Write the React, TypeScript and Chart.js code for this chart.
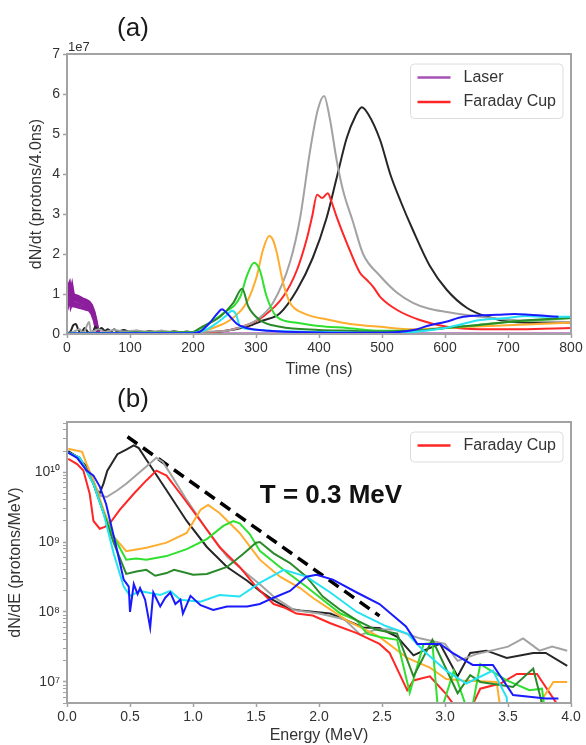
import React, { useEffect, useRef } from 'react';
import { Chart, registerables } from 'chart.js';

Chart.register(...registerables);

const FONT = "'Liberation Sans', Arial, Helvetica, sans-serif";
const TEXT = '#333333';
const FRAME = '#a3a3a3';

// ---------- Panel (a): dN/dt vs time (values in units of 1e7) ----------
const laserShot1: [number, number][] = [[0,1.0],[2,1.2],[4,1.27],[6,1.05],[8,1.2],[10,1.0],[12,0.97],[16,0.95],[20,0.92],[25,0.88],[30,0.85],[35,0.8],[39,0.72],[43,0.55],[46,0.35],[49,0.1],[52,0],[800,0]];
const laserShot2: [number, number][] = [[0,0.9],[2,1.1],[4,1.18],[6,0.98],[8,1.1],[10,0.92],[12,0.9],[16,0.89],[20,0.86],[25,0.82],[30,0.8],[35,0.75],[39,0.67],[43,0.5],[46,0.3],[49,0.08],[52,0]];
const laserShot3: [number, number][] = [[0,0.8],[2,1.0],[4,1.1],[6,0.9],[8,1.0],[10,0.85],[12,0.85],[16,0.83],[20,0.8],[25,0.77],[30,0.74],[35,0.7],[39,0.62],[43,0.45],[46,0.25],[49,0.05],[52,0]];
const laserShot4: [number, number][] = [[0,0.7],[2,0.9],[4,1.0],[6,0.8],[8,0.9],[10,0.78],[12,0.77],[16,0.75],[20,0.73],[25,0.7],[30,0.68],[35,0.65],[39,0.57],[43,0.4],[46,0.2],[49,0.03],[52,0]];
const laserShot5: [number, number][] = [[0,0.6],[2,0.8],[4,0.9],[6,0.7],[8,0.8],[10,0.7],[12,0.7],[16,0.68],[20,0.66],[25,0.64],[30,0.62],[35,0.6],[39,0.52],[43,0.35],[46,0.15],[49,0.02],[52,0]];
const blackA: [number, number][] = [[0,0.02],[5,0.05],[10,0.22],[14,0.25],[18,0.1],[22,0.02],[28,0.15],[33,0.05],[40,0.02],[45,0.18],[50,0.1],[55,0.15],[60,0.08],[65,0.12],[70,0.06],[75,0.12],[80,0.05],[90,0.1],[100,0.05],[110,0.08],[120,0.04],[130,0.07],[140,0.05],[150,0.08],[160,0.04],[170,0.07],[180,0.04],[190,0.06],[200,0.04],[215,0.04],[232,0.05],[260,0.1],[285,0.18],[310,0.33],[338,0.52],[365,1.1],[390,1.9],[412,2.9],[428,3.9],[444,4.9],[458,5.45],[468,5.67],[478,5.5],[497,4.85],[513,4.0],[530,3.3],[549,2.6],[576,1.7],[603,1.1],[635,0.65],[667,0.43],[708,0.3],[750,0.28],[800,0.28]];
const grayA: [number, number][] = [[0,0.02],[10,0.05],[20,0.12],[26,0.03],[35,0.3],[38,0.05],[50,0.12],[60,0.05],[75,0.1],[90,0.06],[110,0.09],[130,0.05],[150,0.08],[170,0.05],[200,0.05],[230,0.06],[259,0.1],[301,0.35],[327,0.78],[354,1.8],[370,2.9],[386,4.6],[398,5.6],[408,5.95],[417,5.4],[428,4.35],[438,3.6],[454,2.8],[470,2.0],[497,1.45],[524,1.03],[549,0.78],[575,0.63],[603,0.55],[656,0.43],[708,0.35],[800,0.3]];
const redA: [number, number][] = [[0,0.01],[100,0.02],[200,0.02],[230,0.05],[259,0.1],[290,0.25],[311,0.43],[343,0.93],[365,1.6],[381,2.4],[389,2.93],[397,3.48],[405,3.4],[414,3.52],[420,3.3],[428,2.93],[444,2.28],[465,1.53],[476,1.35],[486,1.18],[497,0.93],[524,0.6],[560,0.35],[603,0.18],[656,0.12],[720,0.12],[800,0.15]];
const orangeA: [number, number][] = [[0,0.01],[100,0.02],[200,0.03],[222,0.1],[240,0.2],[259,0.35],[285,0.78],[301,1.43],[311,2.1],[321,2.45],[327,2.35],[333,2.03],[343,1.28],[354,0.78],[375,0.52],[417,0.35],[450,0.25],[497,0.18],[550,0.12],[600,0.15],[700,0.22],[800,0.28]];
const limeA: [number, number][] = [[0,0.01],[100,0.03],[200,0.05],[216,0.18],[248,0.52],[275,0.93],[285,1.43],[297,1.78],[306,1.6],[317,0.93],[333,0.43],[365,0.28],[400,0.2],[444,0.15],[500,0.08],[550,0.08],[600,0.15],[650,0.22],[700,0.3],[750,0.35],[800,0.4]];
const darkGreenA: [number, number][] = [[0,0.01],[100,0.03],[200,0.05],[211,0.15],[243,0.43],[264,0.78],[278,1.13],[288,0.68],[306,0.35],[338,0.18],[400,0.1],[450,0.08],[500,0.06],[550,0.08],[600,0.15],[650,0.22],[700,0.3],[750,0.36],[800,0.4]];
const cyanA: [number, number][] = [[0,0.01],[100,0.02],[200,0.03],[220,0.1],[240,0.3],[252,0.45],[262,0.58],[268,0.5],[275,0.18],[290,0.12],[320,0.08],[400,0.05],[500,0.03],[550,0.05],[600,0.15],[656,0.35],[700,0.4],[730,0.45],[760,0.43],[800,0.43]];
const blueA: [number, number][] = [[0,0.01],[100,0.02],[200,0.02],[210,0.05],[225,0.25],[238,0.5],[246,0.62],[252,0.55],[259,0.43],[270,0.25],[285,0.15],[320,0.08],[400,0.04],[500,0.03],[550,0.1],[576,0.22],[600,0.3],[629,0.43],[660,0.47],[683,0.48],[710,0.5],[735,0.48],[762,0.45],[780,0.43]];

// ---------- Panel (b): dN/dE vs energy ----------
const blackB: [number, number][] = [[0.01,2.0e10],[0.08,1.65e10],[0.156,1.2e10],[0.2,8e9],[0.235,5.5e9],[0.26,5.0e9],[0.29,6.9e9],[0.32,1.05e10],[0.4,1.8e10],[0.47,2.1e10],[0.53,2.4e10],[0.57,2.2e10],[0.63,1.5e10],[0.79,5.5e9],[0.95,2.0e9],[1.11,8.5e8],[1.27,4.4e8],[1.43,2.8e8],[1.53,2.0e8],[1.63,1.5e8],[1.77,1.1e8],[1.85,1.05e8],[2.09,9.5e7],[2.35,6.0e7],[2.48,5.9e7],[2.62,4.4e7],[2.75,2.4e7],[2.83,2.8e7],[2.96,3.5e7],[3.1,1.2e7],[3.2,2.6e7],[3.33,2.8e7],[3.49,2.2e7],[3.7,2.6e7],[3.8,2.6e7],[3.97,1.7e7]];
const grayB: [number, number][] = [[0.01,1.9e10],[0.1,1.6e10],[0.2,7.9e9],[0.26,4.6e9],[0.315,4.4e9],[0.4,5.5e9],[0.47,6.8e9],[0.63,1.2e10],[0.71,1.6e10],[0.76,1.4e10],[0.82,9.5e9],[0.95,4.0e9],[1.11,1.5e9],[1.27,6.2e8],[1.43,3.5e8],[1.53,2.5e8],[1.65,1.6e8],[1.8,1.07e8],[2.0,9.5e7],[2.2,7.9e7],[2.33,4.7e7],[2.45,5.6e7],[2.6,5.6e7],[2.8,4.2e7],[3.0,3.5e7],[3.1,2.0e7],[3.25,2.5e7],[3.5,3.2e7],[3.62,4.2e7],[3.75,2.8e7],[3.85,3.2e7],[3.97,2.8e7]];
const redB: [number, number][] = [[0.01,1.55e10],[0.08,1.3e10],[0.13,1.05e10],[0.18,4.9e9],[0.21,2.0e9],[0.26,1.55e9],[0.3,1.65e9],[0.34,1.85e9],[0.42,2.9e9],[0.53,4.9e9],[0.63,7.6e9],[0.71,1.05e10],[0.79,8.9e9],[0.9,4.9e9],[1.06,2.0e9],[1.21,8.5e8],[1.37,4.4e8],[1.5,2.3e8],[1.64,1.3e8],[1.73,1.15e8],[1.82,9.5e7],[1.95,8.9e7],[2.09,6.9e7],[2.3,5.0e7],[2.48,3.5e7],[2.56,2.6e7],[2.7,7.6e6],[2.75,1.05e7],[2.88,1.2e7],[3.0,7e6],[3.1,4e6],[3.2,4e6],[3.28,8e6],[3.44,9.5e6],[3.57,1.3e7],[3.73,1.3e7],[3.92,4e6]];
const orangeB: [number, number][] = [[0.01,2.15e10],[0.12,1.95e10],[0.156,1.3e10],[0.21,7.6e9],[0.29,2.9e9],[0.37,1.2e9],[0.47,7.4e8],[0.63,8.3e8],[0.79,9.8e8],[0.95,1.35e9],[1.06,2.9e9],[1.12,3.4e9],[1.21,2.6e9],[1.37,1.35e9],[1.53,5.6e8],[1.69,3.2e8],[1.85,2.2e8],[1.95,1.6e8],[2.22,7.6e7],[2.48,4.4e7],[2.7,2.2e7],[2.88,1.6e7],[3.01,1.1e7],[3.14,1.05e7],[3.41,1.0e7],[3.45,3e6],[3.7,3e6],[3.78,6e6],[3.86,1.0e7],[3.97,1.0e7]];
const limeB: [number, number][] = [[0.01,1.9e10],[0.1,1.6e10],[0.21,6.8e9],[0.29,2.6e9],[0.37,1.2e9],[0.47,5.6e8],[0.55,5.8e8],[0.63,5.6e8],[0.79,6.3e8],[0.95,7.9e8],[1.11,1.1e9],[1.24,1.7e9],[1.32,2.0e9],[1.37,1.85e9],[1.45,1.3e9],[1.53,7.5e8],[1.69,4.4e8],[1.9,2.3e8],[2.03,1.5e8],[2.17,9.5e7],[2.3,7.6e7],[2.38,4.9e7],[2.48,4.4e7],[2.62,4.0e7],[2.72,7e6],[2.83,3.5e7],[2.9,3.6e7],[2.95,3e6],[3.07,1.45e7],[3.2,3e6],[3.28,1.8e7],[3.49,1.05e7],[3.67,7.6e6],[3.77,8e6],[3.8,3e6]];
const darkGreenB: [number, number][] = [[0.01,1.9e10],[0.1,1.6e10],[0.21,6.8e9],[0.29,2.6e9],[0.37,9.8e8],[0.47,3.5e8],[0.55,3.8e8],[0.63,4.0e8],[0.7,3.3e8],[0.79,3.6e8],[0.85,4.0e8],[0.95,3.6e8],[1.0,3.4e8],[1.11,3.5e8],[1.27,4.4e8],[1.4,6.8e8],[1.5,9.8e8],[1.53,1.0e9],[1.64,6.9e8],[1.77,5.0e8],[1.9,3.2e8],[2.03,1.66e8],[2.17,1.07e8],[2.3,7.6e7],[2.45,5.6e7],[2.62,4.9e7],[2.75,1.2e7],[2.9,4.0e7],[3.1,6.9e6],[3.2,1.25e7],[3.28,1.0e7],[3.54,8.5e6],[3.7,1.55e7],[3.8,3e6]];
const cyanB: [number, number][] = [[0.01,1.9e10],[0.1,1.6e10],[0.21,6.8e9],[0.29,2.6e9],[0.37,6.9e8],[0.45,2.3e8],[0.5,1.7e8],[0.58,2.0e8],[0.74,1.75e8],[0.82,2.0e8],[0.9,1.5e8],[1.06,1.4e8],[1.21,1.75e8],[1.37,1.66e8],[1.53,2.6e8],[1.72,4.0e8],[1.9,3.2e8],[2.09,1.9e8],[2.3,1.0e8],[2.53,6.3e7],[2.7,4.9e7],[2.83,2.8e7],[3.01,1.45e7],[3.17,9.5e6],[3.38,1.45e7],[3.49,6e6],[3.5,3e6]];
const blueB: [number, number][] = [[0.01,1.9e10],[0.08,1.6e10],[0.156,1.05e10],[0.21,8.9e9],[0.26,6.2e9],[0.31,3.5e9],[0.39,8.7e8],[0.45,2.9e8],[0.49,2.3e8],[0.5,1.0e8],[0.53,2.5e8],[0.56,1.8e8],[0.58,2.2e8],[0.62,1.5e8],[0.66,6.0e7],[0.685,1.9e8],[0.74,1.2e8],[0.78,1.6e8],[0.82,1.9e8],[0.86,1.3e8],[0.9,1.5e8],[0.92,9.5e7],[0.98,1.7e8],[1.06,1.25e8],[1.16,1.07e8],[1.27,1.2e8],[1.43,1.2e8],[1.53,1.3e8],[1.64,1.6e8],[1.77,2.0e8],[1.9,3.2e8],[1.98,3.4e8],[2.11,2.9e8],[2.3,1.9e8],[2.48,1.3e8],[2.69,6.2e7],[2.78,3.5e7],[2.96,3.5e7],[3.06,2.6e7],[3.22,1.75e7],[3.38,1.75e7],[3.54,6.5e6],[3.8,5.8e6],[3.9,5.8e6]];
const fitLine: [number, number][] = [[0.48,3.2e10],[2.48,8.8e7]];
const fitLabel = { text: 'T = 0.3 MeV', energy: 2.095, value: 4.6e9 };

const logMajorExponents = [7, 8, 9, 10];
const logMinorMantissas = [2, 3, 4, 5, 6, 7, 8, 9];

const COLORS = {
  laser: '#8c1f9c',
  laserLegend: '#a550b5',
  black: '#262626',
  gray: '#a2a2a2',
  red: '#ff2626',
  orange: '#ffad2e',
  lime: '#2fe02f',
  darkGreen: '#2a8a2a',
  cyan: '#25e3f2',
  blue: '#1a1aff',
};

const SUP: Record<string, string> = { '0': '⁰', '1': '¹', '2': '²', '3': '³', '4': '⁴', '5': '⁵', '6': '⁶', '7': '⁷', '8': '⁸', '9': '⁹' };
const sup = (n: number) => String(n).split('').map((c) => SUP[c]).join('');

const pts = (arr: [number, number][]) => arr.map(([x, y]) => ({ x, y }));

const line = (data: [number, number][], color: string, width = 2, extra: any = {}) => ({
  data: pts(data),
  borderColor: color,
  backgroundColor: color,
  borderWidth: width,
  pointRadius: 0,
  fill: false,
  ...extra,
});

const framePlugin = {
  id: 'frameBox',
  afterDatasetsDraw(chart: any) {
    const { ctx, chartArea: a } = chart;
    ctx.save();
    ctx.strokeStyle = FRAME;
    ctx.lineWidth = 2;
    ctx.strokeRect(a.left, a.top, a.right - a.left, a.bottom - a.top);
    ctx.restore();
  },
};

function drawLegend(chart: any, items: { label: string; color: string }[]) {
  const { ctx, chartArea: a } = chart;
  ctx.save();
  ctx.font = `16px ${FONT}`;
  const textW = Math.max(...items.map((i) => ctx.measureText(i.label).width));
  const w = 7 + 33 + 13 + textW + 7;
  const h = 30 + 24.5 * (items.length - 1);
  const x = a.right - 8 - w;
  const y = a.top + 10;
  ctx.fillStyle = 'rgba(255,255,255,0.85)';
  ctx.strokeStyle = '#dcdcdc';
  ctx.lineWidth = 1;
  ctx.beginPath();
  if (ctx.roundRect) ctx.roundRect(x, y, w, h, 4);
  else ctx.rect(x, y, w, h);
  ctx.fill();
  ctx.stroke();
  items.forEach((it, i) => {
    const cy = y + 13.5 + 24.5 * i;
    ctx.strokeStyle = it.color;
    ctx.lineWidth = 2.5;
    ctx.beginPath();
    ctx.moveTo(x + 7, cy);
    ctx.lineTo(x + 40, cy);
    ctx.stroke();
    ctx.fillStyle = TEXT;
    ctx.textAlign = 'left';
    ctx.textBaseline = 'middle';
    ctx.fillText(it.label, x + 53, cy);
  });
  ctx.restore();
}

function drawText(ctx: CanvasRenderingContext2D, text: string, x: number, y: number, font: string, align: CanvasTextAlign = 'center', color = '#1a1a1a') {
  ctx.save();
  ctx.font = font;
  ctx.fillStyle = color;
  ctx.textAlign = align;
  ctx.textBaseline = 'middle';
  ctx.fillText(text, x, y);
  ctx.restore();
}

const tickFont = { family: FONT, size: 14 };
const titleFont = { family: FONT, size: 16 };

function configA(): any {
  const smooth = { cubicInterpolationMode: 'monotone' };
  return {
    type: 'line',
    data: {
      datasets: [
        line(blueA, COLORS.blue, 2, smooth),
        line(cyanA, COLORS.cyan, 2, smooth),
        line(darkGreenA, COLORS.darkGreen, 2, smooth),
        line(limeA, COLORS.lime, 2, smooth),
        line(orangeA, COLORS.orange, 2, smooth),
        line(grayA, COLORS.gray, 2, smooth),
        line(redA, COLORS.red, 2, { ...smooth, label: 'Faraday Cup' }),
        line(blackA, COLORS.black, 2, smooth),
        line(laserShot5, COLORS.laser, 3, { label: 'Laser' }),
        line(laserShot4, COLORS.laser, 3, { label: 'Laser' }),
        line(laserShot3, COLORS.laser, 3, { label: 'Laser' }),
        line(laserShot2, COLORS.laser, 3, { label: 'Laser' }),
        line(laserShot1, COLORS.laser, 3, { label: 'Laser' }),
      ],
    },
    options: {
      responsive: false,
      animation: false,
      events: [],
      layout: { padding: { left: 0, right: 15, top: 54, bottom: 0 } },
      plugins: { legend: { display: false }, tooltip: { enabled: false } },
      scales: {
        x: {
          type: 'linear',
          min: 0,
          max: 800,
          ticks: { stepSize: 100, font: tickFont, color: TEXT, padding: 2, maxRotation: 0 },
          grid: { drawOnChartArea: false, drawTicks: true, tickLength: 4, tickColor: FRAME, tickWidth: 1.5 },
          border: { display: false },
          title: { display: true, text: 'Time (ns)', font: titleFont, color: TEXT, padding: { top: 0, bottom: 1 } },
          afterFit: (s: any) => { s.height = 46; },
        },
        y: {
          type: 'linear',
          min: 0,
          max: 7,
          ticks: { stepSize: 1, font: tickFont, color: TEXT, padding: 3 },
          grid: { drawOnChartArea: false, drawTicks: true, tickLength: 4, tickColor: FRAME, tickWidth: 1.5 },
          border: { display: false },
          title: { display: true, text: 'dN/dt (protons/4.0ns)', font: titleFont, color: TEXT, padding: { top: 27, bottom: 0 } },
          afterFit: (s: any) => { s.width = 67; },
        },
      },
    },
    plugins: [
      framePlugin,
      {
        id: 'decorA',
        afterDraw(chart: any) {
          const { ctx, chartArea: a } = chart;
          drawLegend(chart, [
            { label: 'Laser', color: COLORS.laserLegend },
            { label: 'Faraday Cup', color: COLORS.red },
          ]);
          drawText(ctx, '(a)', 133, 29, `26px ${FONT}`);
          drawText(ctx, '1e7', a.left + 1, a.top - 7, `13px ${FONT}`, 'left', TEXT);
        },
      },
    ],
  };
}

function configB(): any {
  return {
    type: 'line',
    data: {
      datasets: [
        line(blueB, COLORS.blue),
        line(cyanB, COLORS.cyan),
        line(darkGreenB, COLORS.darkGreen),
        line(limeB, COLORS.lime),
        line(orangeB, COLORS.orange),
        line(redB, COLORS.red, 2, { label: 'Faraday Cup' }),
        line(grayB, COLORS.gray),
        line(blackB, COLORS.black),
        line(fitLine, '#000000', 3.5, { borderDash: [12, 7] }),
      ],
    },
    options: {
      responsive: false,
      animation: false,
      events: [],
      layout: { padding: { left: 0, right: 15, top: 42, bottom: 0 } },
      plugins: { legend: { display: false }, tooltip: { enabled: false } },
      scales: {
        x: {
          type: 'linear',
          min: 0,
          max: 4,
          ticks: { stepSize: 0.5, font: tickFont, color: TEXT, padding: 2, maxRotation: 0, callback: (v: any) => Number(v).toFixed(1) },
          grid: { drawOnChartArea: false, drawTicks: true, tickLength: 4, tickColor: FRAME, tickWidth: 1.5 },
          border: { display: false },
          title: { display: true, text: 'Energy (MeV)', font: titleFont, color: TEXT, padding: { top: 0, bottom: 0 } },
          afterFit: (s: any) => { s.height = 42; },
        },
        y: {
          type: 'logarithmic',
          min: 5e6,
          max: 5.2e10,
          afterBuildTicks: (axis: any) => {
            const t: any[] = [];
            for (const e of [6, ...logMajorExponents]) {
              const major = 10 ** e;
              if (major >= axis.min && major <= axis.max) t.push({ value: major, major: true });
              for (const m of logMinorMantissas) {
                const v = m * 10 ** e;
                if (v >= axis.min && v <= axis.max) t.push({ value: v, major: false });
              }
            }
            t.sort((p, q) => p.value - q.value);
            axis.ticks = t;
          },
          ticks: {
            autoSkip: false,
            font: tickFont,
            color: TEXT,
            padding: 3,
            callback: (v: any) => {
              const e = Math.log10(Number(v));
              const r = Math.round(e);
              return Math.abs(e - r) < 1e-9 && logMajorExponents.includes(r) ? '10' + sup(r) : '';
            },
          },
          grid: {
            drawOnChartArea: false,
            drawTicks: true,
            tickLength: 4,
            tickColor: FRAME,
            tickWidth: (ctx: any) => (ctx.tick && ctx.tick.major ? 1.5 : 1),
          },
          border: { display: false },
          title: { display: true, text: 'dN/dE (protons/MeV)', font: titleFont, color: TEXT, padding: { top: 6, bottom: 0 } },
          afterFit: (s: any) => { s.width = 67; },
        },
      },
    },
    plugins: [
      framePlugin,
      {
        id: 'decorB',
        afterDraw(chart: any) {
          const { ctx, scales } = chart;
          drawLegend(chart, [{ label: 'Faraday Cup', color: COLORS.red }]);
          drawText(ctx, '(b)', 133, 20, `26px ${FONT}`);
          drawText(
            ctx,
            fitLabel.text,
            scales.x.getPixelForValue(fitLabel.energy),
            scales.y.getPixelForValue(fitLabel.value),
            `bold 26px ${FONT}`,
            'center',
            '#111111'
          );
        },
      },
    ],
  };
}

export default function App() {
  const refA = useRef<HTMLCanvasElement>(null);
  const refB = useRef<HTMLCanvasElement>(null);
  useEffect(() => {
    Chart.defaults.font.family = FONT;
    const a = new Chart(refA.current as HTMLCanvasElement, configA());
    const b = new Chart(refB.current as HTMLCanvasElement, configB());
    return () => {
      a.destroy();
      b.destroy();
    };
  }, []);
  return (
    <div style={{ position: 'absolute', left: 0, top: 0, width: 586, height: 745, background: '#ffffff', overflow: 'hidden' }}>
      <canvas ref={refA} width={586} height={380} style={{ position: 'absolute', left: 0, top: 0, width: 586, height: 380 }} />
      <canvas ref={refB} width={586} height={365} style={{ position: 'absolute', left: 0, top: 380, width: 586, height: 365 }} />
    </div>
  );
}
